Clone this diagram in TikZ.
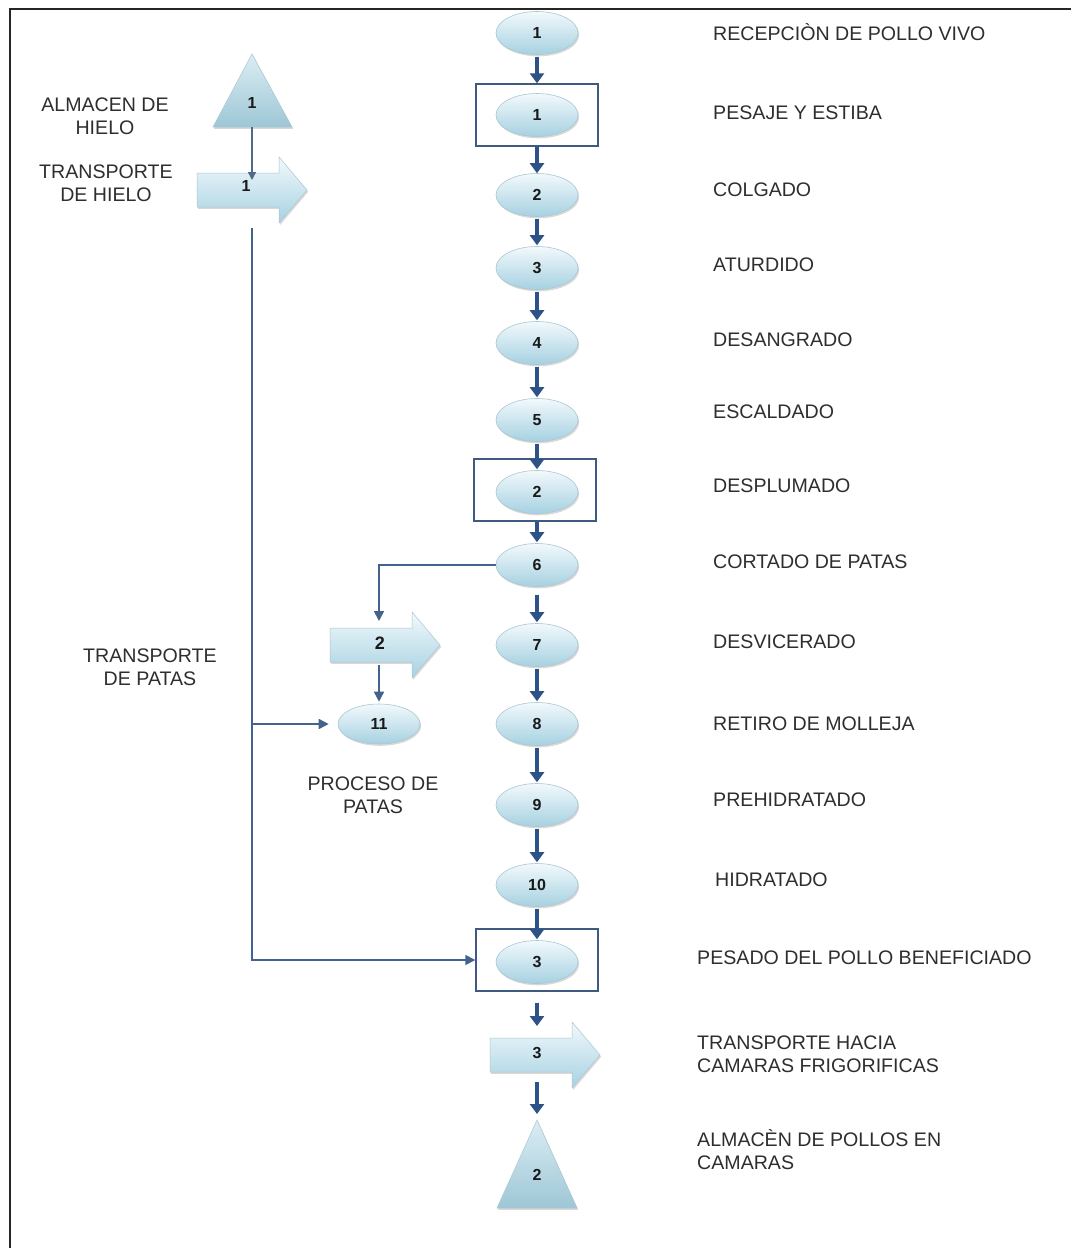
\documentclass[tikz,border=0pt]{standalone}
\usepackage{fontspec}
\setmainfont{Liberation Sans}
\usetikzlibrary{arrows.meta,shadows,shapes.geometric}

\definecolor{fillTop}{HTML}{F2F9FC}
\definecolor{fillBot}{HTML}{A6D1E1}
\definecolor{edgeC}{HTML}{A9C7D3}
\definecolor{flowC}{HTML}{2C5288}
\definecolor{linkC}{HTML}{43628C}
\definecolor{boxC}{HTML}{3F5980}
\definecolor{txtC}{HTML}{2E2E2E}

\tikzset{
  softshadow/.style={drop shadow={shadow xshift=1.2pt, shadow yshift=-1.8pt, opacity=0.25, fill=black!60}},
  proc/.style={ellipse, minimum width=82pt, minimum height=43pt, inner sep=0pt,
    top color=fillTop, bottom color=fillBot, draw=edgeC, line width=0.6pt, softshadow,
    font=\bfseries\fontsize{16}{16}\selectfont, text=black!90},
  framebox/.style={draw=boxC, line width=1.4pt, minimum width=122pt, minimum height=62pt, inner sep=0pt},
  num/.style={font=\bfseries\fontsize{16}{16}\selectfont, text=black!90, inner sep=0pt},
  flow/.style={draw=flowC, line width=3.3pt, -{Triangle[width=14pt,length=10pt]}},
  link/.style={draw=linkC, line width=1.6pt, -{Triangle[width=10pt,length=10pt]}},
  lbl/.style={font=\fontsize{19.6}{23}\selectfont, text=txtC, inner sep=0pt},
  transp/.pic={
    \shade[top color=fillTop, bottom color=fillBot, draw=edgeC, line width=0.5pt, softshadow]
      (0,-17) -- (82,-17) -- (82,-33) -- (110,0) -- (82,33) -- (82,17) -- (0,17) -- cycle;
  }
}

\begin{document}
\begin{tikzpicture}[x=1pt,y=-1pt]
\useasboundingbox (0,0) rectangle (1071,1248);
\fill[white] (0,0) rectangle (1071,1248);

% page frame (top and left edges)
\draw[line width=2.4pt, black!85] (1071,9) -- (10,9) -- (10,1248);

% ---------------- main process column ----------------
\node[proc] (e1) at (537,33) {1};
\node[framebox] (b1) at (537,115) {};
\node[proc] (p1) at (537,115) {1};
\node[proc] (e2) at (537,195) {2};
\node[proc] (e3) at (537,268) {3};
\node[proc] (e4) at (537,343) {4};
\node[proc] (e5) at (537,420) {5};
\node[framebox] (b2) at (535,490) {};
\node[proc] (p2) at (537,492) {2};
\node[proc] (e6) at (537,565) {6};
\node[proc] (e7) at (537,645) {7};
\node[proc] (e8) at (537,724) {8};
\node[proc] (e9) at (537,805) {9};
\node[proc] (e10) at (537,885) {10};
\node[framebox] (b3) at (537,960) {};
\node[proc] (p3) at (537,962) {3};

\pic at (490,1055) {transp};
\node[num] (t3) at (537,1053) {3};
\coordinate (t3top) at (537,1026);
\coordinate (t3bot) at (537,1080);

\shade[top color=fillTop!70!fillBot, bottom color=fillBot!95!black, draw=edgeC, line width=0.5pt, softshadow]
  (537,1120) -- (577,1208) -- (497,1208) -- cycle;
\node[num] (s2) at (537,1175) {2};
\coordinate (s2top) at (537,1118);

% main flow arrows
\draw[flow, shorten <=2pt] (e1.south) -- (b1.north);
\draw[flow] (b1.south) -- (e2.north);
\draw[flow, shorten <=2pt, shorten >=1pt] (e2.south) -- (e3.north);
\draw[flow, shorten <=2pt, shorten >=1pt] (e3.south) -- (e4.north);
\draw[flow, shorten <=2pt, shorten >=1pt] (e4.south) -- (e5.north);
\draw[flow, shorten <=2pt, shorten >=1pt] (e5.south) -- (p2.north);
\draw[flow, shorten >=1pt] (b2.south -| e6) -- (e6.north);
\draw[flow, shorten <=8pt, shorten >=1pt] (e6.south) -- (e7.north);
\draw[flow, shorten <=2pt, shorten >=1pt] (e7.south) -- (e8.north);
\draw[flow, shorten <=2pt, shorten >=1pt] (e8.south) -- (e9.north);
\draw[flow, shorten <=2pt, shorten >=1pt] (e9.south) -- (e10.north);
\draw[flow, shorten <=2pt, shorten >=1pt] (e10.south) -- (p3.north);
\draw[flow, shorten <=11pt] (b3.south) -- (t3top);
\draw[flow, shorten <=2pt, shorten >=4pt] (t3bot) -- (s2top);

% ---------------- ice storage and transport ----------------
\shade[top color=fillTop!70!fillBot, bottom color=fillBot!95!black, draw=edgeC, line width=0.5pt, softshadow]
  (252,54) -- (292,127) -- (213,127) -- cycle;
\node[num] (s1) at (252,103) {1};
\coordinate (s1base) at (252,127);

\pic at (197,190) {transp};
\node[num] (t1) at (246,186) {1};
\coordinate (t1top) at (252,180);
\coordinate (t1bot) at (252,228);

\draw[link, draw=linkC!75!gray, line width=1.4pt, -{Triangle[width=8pt,length=8pt]}] (s1base) -- (t1top);

% ---------------- leg branch ----------------
\pic at (330,645) {transp};
\node[num, font=\bfseries\fontsize{18}{18}\selectfont] (t2) at (380,643) {2};
\coordinate (t2top) at (379,621);
\coordinate (t2bot) at (379,665);
\node[proc, minimum height=40pt] (e11) at (379,724) {11};

\draw[link] (e6.west) -- ++(-7,0) -| (t2top);
\draw[link, shorten >=2pt] (t2bot) -- (e11.north);

% ice line to leg processing and weighing
\coordinate (j1) at (t1bot |- e11.west);
\draw[link] (t1bot) |- (b3.west);
\draw[link, shorten >=9pt] (j1) -- (e11.west);

% ---------------- left labels ----------------
\node[lbl, align=center] (l1) at (105,116) {ALMACEN DE\\HIELO};
\node[lbl, align=center] (l2) at (106,183) {TRANSPORTE\\DE HIELO};
\node[lbl, align=center] (l3) at (150,667) {TRANSPORTE\\DE PATAS};
\node[lbl, align=center] (l4) at (373,795) {PROCESO DE\\PATAS};

% ---------------- step labels ----------------
\node[lbl, anchor=west] (r1) at (713,32) {RECEPCIÒN DE POLLO VIVO};
\node[lbl, anchor=west] (r2) at (713,113) {PESAJE Y ESTIBA};
\node[lbl, anchor=west] (r3) at (713,190) {COLGADO};
\node[lbl, anchor=west] (r4) at (713,265) {ATURDIDO};
\node[lbl, anchor=west] (r5) at (713,340) {DESANGRADO};
\node[lbl, anchor=west] (r6) at (713,412) {ESCALDADO};
\node[lbl, anchor=west] (r7) at (713,486) {DESPLUMADO};
\node[lbl, anchor=west] (r8) at (713,562) {CORTADO DE PATAS};
\node[lbl, anchor=west] (r9) at (713,642) {DESVICERADO};
\node[lbl, anchor=west] (r10) at (713,724) {RETIRO DE MOLLEJA};
\node[lbl, anchor=west] (r11) at (713,800) {PREHIDRATADO};
\node[lbl, anchor=west] (r12) at (715,880) {HIDRATADO};
\node[lbl, anchor=west] (r13) at (697,958) {PESADO DEL POLLO BENEFICIADO};
\node[lbl, anchor=west, align=left] (r14) at (697,1054) {TRANSPORTE HACIA\\CAMARAS FRIGORIFICAS};
\node[lbl, anchor=west, align=left] (r15) at (697,1150) {ALMACÈN DE POLLOS EN\\CAMARAS};
\end{tikzpicture}
\end{document}
